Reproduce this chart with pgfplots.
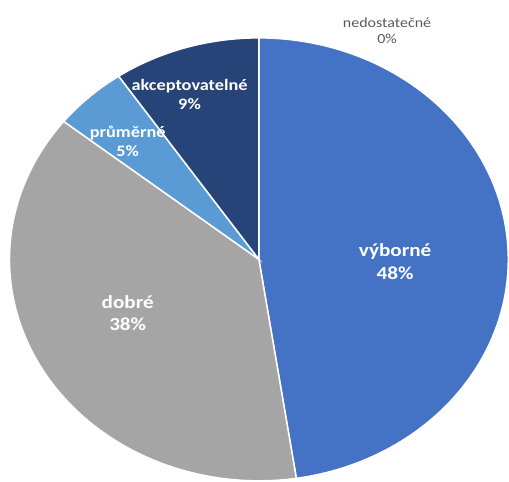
\documentclass[border=0pt]{standalone}
\usepackage{fontspec}
\usepackage{pgfplots}
\usepackage{pgfplotstable}
\pgfplotsset{compat=1.18}
\newfontfamily\lb{Carlito}[FakeStretch=1.15]
\definecolor{cVyb}{HTML}{4472C4}
\definecolor{cDob}{HTML}{A5A5A5}
\definecolor{cPru}{HTML}{5B9BD5}
\definecolor{cAkc}{HTML}{264478}
\definecolor{cTxt}{HTML}{595959}

\pgfplotstableread{
slice value
nedostatecne 0
vyborne 47.6
dobre 38.1
prumerne 4.8
akceptovatelne 9.5
}\piedata

\pgfplotstablegetelem{0}{value}\of\piedata \let\vA\pgfplotsretval
\pgfplotstablegetelem{1}{value}\of\piedata \let\vB\pgfplotsretval
\pgfplotstablegetelem{2}{value}\of\piedata \let\vC\pgfplotsretval
\pgfplotstablegetelem{3}{value}\of\piedata \let\vD\pgfplotsretval
\pgfplotstablegetelem{4}{value}\of\piedata \let\vE\pgfplotsretval
\pgfmathsetmacro\aA{3.6*\vA}
\pgfmathsetmacro\aB{\aA+3.6*\vB}
\pgfmathsetmacro\aC{\aB+3.6*\vC}
\pgfmathsetmacro\aD{\aC+3.6*\vD}
\pgfmathsetmacro\aE{\aD+3.6*\vE}

\begin{document}
\begin{tikzpicture}
\begin{axis}[
  scale only axis, width=509bp, height=483bp,
  xmin=-1.038, xmax=0.998, ymin=-1.0045, ymax=1.171,
  hide axis, clip=false,
]
\path (rel axis cs:0,0) rectangle (rel axis cs:1,1);
\addplot[fill=cVyb, draw=white, line width=1.5bp, domain=\aA:\aB, samples=120, variable=\t]
  ({sin(\t)},{cos(\t)}) -- (axis cs:0,0) -- cycle;
\addplot[fill=cDob, draw=white, line width=1.5bp, domain=\aB:\aC, samples=120, variable=\t]
  ({sin(\t)},{cos(\t)}) -- (axis cs:0,0) -- cycle;
\addplot[fill=cPru, draw=white, line width=1.5bp, domain=\aC:\aD, samples=30, variable=\t]
  ({sin(\t)},{cos(\t)}) -- (axis cs:0,0) -- cycle;
\addplot[fill=cAkc, draw=white, line width=1.5bp, domain=\aD:\aE, samples=40, variable=\t]
  ({sin(\t)},{cos(\t)}) -- (axis cs:0,0) -- cycle;

\node[align=center, text=white, font=\lb\bfseries\fontsize{18.5}{23}\selectfont] at (axis cs:0.546,-0.009) {výborné\\48\%};
\node[align=center, text=white, font=\lb\bfseries\fontsize{18.5}{23}\selectfont] at (axis cs:-0.526,-0.243) {dobré\\38\%};
\node[align=center, text=white, font=\lb\bfseries\fontsize{16}{19.5}\selectfont] at (axis cs:-0.526,0.532) {průměrné\\5\%};
\node[align=center, text=white, font=\lb\bfseries\fontsize{16}{19.5}\selectfont] at (axis cs:-0.278,0.743) {akceptovatelné\\9\%};
\node[align=center, text=cTxt, font=\lb\fontsize{14}{16.5}\selectfont] at (axis cs:0.514,1.032) {nedostatečné\\0\%};
\end{axis}
\end{tikzpicture}
\end{document}
